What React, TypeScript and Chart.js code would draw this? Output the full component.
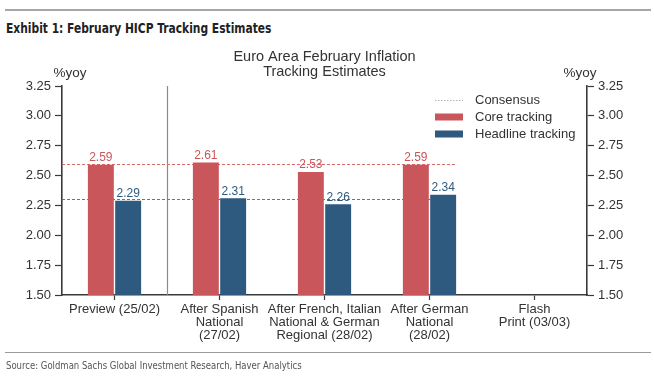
import React, { useEffect, useRef } from "react";
import { Chart, registerables } from "chart.js";

Chart.register(...registerables);

const categories: string[][] = [
  ["Preview (25/02)"],
  ["After Spanish", "National", "(27/02)"],
  ["After French, Italian", "National & German", "Regional (28/02)"],
  ["After German", "National", "(28/02)"],
  ["Flash", "Print (03/03)"],
];
const coreTracking: (number | null)[] = [2.59, 2.61, 2.53, 2.59, null];
const headlineTracking: (number | null)[] = [2.29, 2.31, 2.26, 2.34, null];
const consensusCore = 2.6;
const consensusHeadline = 2.3;
const yMin = 1.5;
const yMax = 3.25;
const yStep = 0.25;

const chartTitle = ["Euro Area February Inflation", "Tracking Estimates"];
const axisUnit = "%yoy";
const legendLabels = ["Consensus", "Core tracking", "Headline tracking"];

const RED = "#C9565B";
const BLUE = "#2E5A7F";
const RED_DASH = "#D86A6E";
const BLUE_DASH = "#4F7CA2";
const TEXT = "#333333";
const FONT = "'Liberation Sans', Arial, sans-serif";

const overlayPlugin = {
  id: "overlay",
  beforeDatasetsDraw(chart: any) {
    const { ctx, chartArea, scales } = chart;
    const x = scales.x;
    const y = scales.y;
    ctx.save();
    const sepX = (x.getPixelForValue(0) + x.getPixelForValue(1)) / 2;
    ctx.strokeStyle = "#8a8a8a";
    ctx.lineWidth = 1.2;
    ctx.beginPath();
    ctx.moveTo(Math.round(sepX) + 0.5, chartArea.top);
    ctx.lineTo(Math.round(sepX) + 0.5, chartArea.bottom);
    ctx.stroke();
    let lastIdx = 0;
    headlineTracking.forEach((v, i) => {
      if (v !== null) lastIdx = i;
    });
    const meta = chart.getDatasetMeta(1);
    const bar = meta.data[lastIdx];
    const endX = bar.x + bar.width / 2;
    ctx.lineWidth = 1;
    ctx.setLineDash([3, 2]);
    [
      [consensusCore, RED_DASH],
      [consensusHeadline, BLUE_DASH],
    ].forEach(([v, c]: any) => {
      const py = Math.round(y.getPixelForValue(v)) + 0.5;
      ctx.strokeStyle = c;
      ctx.beginPath();
      ctx.moveTo(chartArea.left, py);
      ctx.lineTo(endX, py);
      ctx.stroke();
    });
    ctx.restore();
  },
  afterDraw(chart: any) {
    const { ctx, chartArea } = chart;
    ctx.save();
    ctx.font = `12px ${FONT}`;
    ctx.textAlign = "center";
    ctx.textBaseline = "bottom";
    [0, 1].forEach((di) => {
      const meta = chart.getDatasetMeta(di);
      const vals = di === 0 ? coreTracking : headlineTracking;
      ctx.fillStyle = di === 0 ? RED : BLUE;
      meta.data.forEach((el: any, i: number) => {
        const v = vals[i];
        if (v === null) return;
        ctx.fillText(v.toFixed(2), el.x, el.y - 1);
      });
    });
    const cx = (chartArea.left + chartArea.right) / 2;
    ctx.fillStyle = TEXT;
    ctx.font = `14.5px ${FONT}`;
    ctx.textBaseline = "middle";
    ctx.fillText(chartTitle[0], cx, 57);
    ctx.fillText(chartTitle[1], cx, 72);
    ctx.font = `13.5px ${FONT}`;
    ctx.fillText(axisUnit, 70, 73);
    ctx.fillText(axisUnit, 580, 73);
    const lx = 435;
    const tx = 475;
    ctx.strokeStyle = "#b0b0b0";
    ctx.lineWidth = 1;
    ctx.setLineDash([1.5, 1.5]);
    ctx.beginPath();
    ctx.moveTo(lx, 100.5);
    ctx.lineTo(lx + 28, 100.5);
    ctx.stroke();
    ctx.setLineDash([]);
    ctx.fillStyle = RED;
    ctx.fillRect(lx, 113.5, 28, 7);
    ctx.fillStyle = BLUE;
    ctx.fillRect(lx, 130.5, 28, 7);
    ctx.fillStyle = TEXT;
    ctx.font = `13px ${FONT}`;
    ctx.textAlign = "left";
    ctx.fillText(legendLabels[0], tx, 100.5);
    ctx.fillText(legendLabels[1], tx, 117);
    ctx.fillText(legendLabels[2], tx, 134);
    ctx.restore();
  },
};

export default function App() {
  const ref = useRef<HTMLCanvasElement | null>(null);
  useEffect(() => {
    if (!ref.current) return;
    const yAxisCommon = {
      min: yMin,
      max: yMax,
      grid: {
        drawOnChartArea: false,
        drawTicks: true,
        tickLength: 7,
        tickColor: "#3a3a3a",
        tickWidth: 1.2,
      },
      border: { display: true, color: "#3a3a3a", width: 1.6 },
      ticks: {
        stepSize: yStep,
        padding: 4,
        color: TEXT,
        font: { family: FONT, size: 13 },
        callback: (v: any) => Number(v).toFixed(2),
      },
    };
    const chart = new Chart(ref.current, {
      type: "bar",
      data: {
        labels: categories,
        datasets: [
          {
            label: legendLabels[1],
            data: coreTracking,
            backgroundColor: RED,
            categoryPercentage: 0.52,
            barPercentage: 0.95,
          },
          {
            label: legendLabels[2],
            data: headlineTracking,
            backgroundColor: BLUE,
            categoryPercentage: 0.52,
            barPercentage: 0.95,
          },
        ],
      },
      options: {
        responsive: false,
        animation: false,
        devicePixelRatio: 1,
        layout: { padding: { top: 86, left: 0, right: 0, bottom: 0 } },
        plugins: {
          legend: { display: false },
          title: { display: false },
          tooltip: { enabled: false },
        },
        scales: {
          x: {
            offset: true,
            grid: {
              offset: false,
              drawOnChartArea: false,
              drawTicks: true,
              tickLength: 5,
              tickColor: "#3a3a3a",
              tickWidth: 1.2,
            },
            border: { display: true, color: "#3a3a3a", width: 1.6 },
            ticks: {
              padding: 3,
              color: TEXT,
              maxRotation: 0,
              autoSkip: false,
              font: { family: FONT, size: 13, lineHeight: 1.0 },
            },
            afterFit: (s: any) => {
              s.height = 81;
            },
          },
          y: {
            ...yAxisCommon,
            position: "left",
            afterFit: (s: any) => {
              s.width = 62;
            },
          },
          y2: {
            ...yAxisCommon,
            position: "right",
            afterFit: (s: any) => {
              s.width = 67;
            },
          },
        },
      } as any,
      plugins: [overlayPlugin],
    });
    return () => chart.destroy();
  }, []);

  return (
    <div
      style={{
        position: "absolute",
        left: 0,
        top: 0,
        width: 654,
        height: 376,
        background: "#fff",
        overflow: "hidden",
      }}
    >
      <div
        style={{
          position: "absolute",
          left: 5,
          top: 9,
          width: 646,
          height: 2,
          background: "#a6a6a6",
        }}
      />
      <div
        style={{
          position: "absolute",
          left: 6,
          top: 19,
          fontFamily: "'DejaVu Sans Condensed', 'DejaVu Sans', sans-serif",
          fontWeight: "bold",
          fontSize: 14.5,
          color: "#222",
          whiteSpace: "nowrap",
          lineHeight: "18px",
          transform: "scaleX(0.82)",
          transformOrigin: "left center",
        }}
      >
        Exhibit 1: February HICP Tracking Estimates
      </div>
      <canvas
        ref={ref}
        width={654}
        height={376}
        style={{ position: "absolute", left: 0, top: 0, width: 654, height: 376 }}
      />
      <div
        style={{
          position: "absolute",
          left: 5,
          top: 352,
          width: 646,
          height: 1,
          background: "#9a9a9a",
        }}
      />
      <div
        style={{
          position: "absolute",
          left: 6,
          top: 359,
          fontFamily: "'DejaVu Sans Condensed', 'DejaVu Sans', sans-serif",
          fontSize: 11,
          color: "#555",
          whiteSpace: "nowrap",
          lineHeight: "13px",
          transform: "scaleX(0.86)",
          transformOrigin: "left center",
        }}
      >
        Source: Goldman Sachs Global Investment Research, Haver Analytics
      </div>
    </div>
  );
}
